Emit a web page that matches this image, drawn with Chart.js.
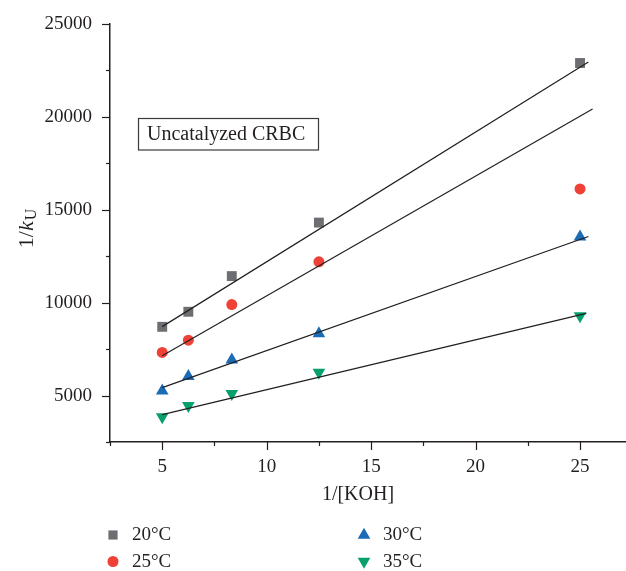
<!DOCTYPE html>
<html>
<head>
<meta charset="utf-8">
<script src="https://cdn.jsdelivr.net/npm/chart.js"></script>
<style>
  html, body { margin: 0; padding: 0; background: #fff; overflow: hidden; }
</style>
</head>
<body>
<canvas id="koh" width="626" height="571"></canvas>
<script>
// 1/[KOH] values and 1/kU
const invKOH = [5, 6.25, 8.33, 12.5, 25];
const temps = ['20°C', '25°C', '30°C', '35°C'];
const invK20 = [8700, 9510, 11430, 14310, 22900];
const invK25 = [7320, 7980, 9900, 12200, 16120];
const invK30 = [5260, 6030, 6920, 8340, 13540];
const invK35 = [3850, 4450, 5100, 6250, 9290];

// straight fit lines, two ends each
const fitX20 = [5, 25.4], fitY20 = [8710, 22960];
const fitX25 = [5, 25.6], fitY25 = [7140, 20430];
const fitX30 = [5, 25.4], fitY30 = [5430, 13560];
const fitX35 = [5, 25.3], fitY35 = [3975, 9420];

const xTicks = [2.5, 5, 7.5, 10, 12.5, 15, 17.5, 20, 22.5, 25];
const yTicks = [2500, 5000, 7500, 10000, 12500, 15000, 17500, 20000, 22500, 25000];

const serif = "'Liberation Serif', 'DejaVu Serif', serif";
const ink = '#231f20';
const colors = ['#6d6e71', '#ef4136', '#1b6bb5', '#07a06c'];
const styles = ['rect', 'circle', 'triangle', 'triangle'];
const rotations = [0, 0, 0, 180];
const radii = [7, 5.5, 7.3, 7.3];

const pts = (xs, ys) => xs.map((x, i) => ({ x: x, y: ys[i] }));

const markerSets = [invK20, invK25, invK30, invK35].map((ys, i) => ({
  label: temps[i],
  data: pts(invKOH, ys),
  pointStyle: styles[i],
  pointRotation: rotations[i],
  pointRadius: radii[i],
  backgroundColor: colors[i],
  pointBorderWidth: 0,
  showLine: false,
  order: 1
}));

const fitSets = [[fitX20, fitY20], [fitX25, fitY25], [fitX30, fitY30], [fitX35, fitY35]].map(f => ({
  data: pts(f[0], f[1]),
  showLine: true,
  borderColor: ink,
  borderWidth: 1.2,
  pointRadius: 0,
  order: 0
}));

function marker(ctx, style, rot, r, x, y, color) {
  ctx.fillStyle = color;
  if (Chart.helpers && Chart.helpers.drawPoint) {
    Chart.helpers.drawPoint(ctx, { pointStyle: style, rotation: rot, radius: r, borderWidth: 0 }, x, y);
  }
}

const decor = {
  id: 'decor',
  afterDraw(chart) {
    const ctx = chart.ctx;
    const { left, bottom } = chart.chartArea;
    const xs = chart.scales.x, ys = chart.scales.y;
    ctx.save();

    // tick marks, long on labelled values
    ctx.strokeStyle = ink;
    ctx.lineWidth = 1.2;
    ys.ticks.forEach(t => {
      const len = t.value % 5000 === 0 ? 8 : 4;
      const py = Math.round(ys.getPixelForValue(t.value)) + 0.5;
      ctx.beginPath(); ctx.moveTo(left - len, py); ctx.lineTo(left, py); ctx.stroke();
    });
    xs.ticks.forEach(t => {
      const len = t.value % 5 === 0 ? 8 : 4;
      const px = Math.round(xs.getPixelForValue(t.value)) + 0.5;
      ctx.beginPath(); ctx.moveTo(px, bottom); ctx.lineTo(px, bottom + len); ctx.stroke();
    });

    // axis titles
    ctx.fillStyle = ink;
    ctx.textBaseline = 'middle';
    ctx.textAlign = 'center';
    ctx.font = '20px ' + serif;
    ctx.fillText('1/[KOH]', 358, 495);

    ctx.save();
    ctx.translate(27, 229);
    ctx.rotate(-Math.PI / 2);
    ctx.textAlign = 'left';
    ctx.font = '22px ' + serif;
    const w1 = ctx.measureText('1/').width;
    ctx.font = 'italic 22px ' + serif;
    const w2 = ctx.measureText('k').width;
    ctx.font = '16px ' + serif;
    const w3 = ctx.measureText('U').width;
    let x0 = -(w1 + w2 + w3) / 2;
    ctx.font = '22px ' + serif;
    ctx.fillText('1/', x0, 0);
    ctx.font = 'italic 22px ' + serif;
    ctx.fillText('k', x0 + w1, 0);
    ctx.font = '16px ' + serif;
    ctx.fillText('U', x0 + w1 + w2 + 1, 5);
    ctx.restore();

    // label box
    ctx.strokeStyle = '#3a3a3a';
    ctx.lineWidth = 1.2;
    ctx.strokeRect(138.5, 118.5, 180, 31.5);
    ctx.textAlign = 'left';
    ctx.font = '20px ' + serif;
    ctx.fillText('Uncatalyzed CRBC', 147, 134.5);

    // legend, two columns
    const spots = [[113, 535], [113, 561.5], [364, 535], [364, 561.5]];
    chart.data.datasets.slice(0, 4).forEach((ds, i) => {
      const [mx, my] = spots[i];
      marker(ctx, styles[i], rotations[i], i === 0 ? 6.5 : radii[i], mx, my, colors[i]);
      ctx.fillStyle = ink;
      ctx.font = '19px ' + serif;
      ctx.fillText(ds.label, mx + 19, my + 0.5);
    });
    ctx.restore();
  }
};

new Chart(document.getElementById('koh'), {
  type: 'scatter',
  data: { datasets: markerSets.concat(fitSets) },
  options: {
    responsive: false,
    animation: false,
    events: [],
    layout: { autoPadding: false, padding: { top: 24, right: 0, bottom: 0, left: 0 } },
    plugins: { legend: { display: false }, tooltip: { enabled: false } },
    scales: {
      x: {
        type: 'linear',
        min: 2.5,
        max: 27.2,
        afterBuildTicks: s => { s.ticks = xTicks.map(v => ({ value: v })); },
        afterFit: s => { s.height = 129; },
        // invisible built-in ticks only hold the label gap; real ticks drawn by decor
        grid: { drawOnChartArea: false, drawTicks: true, tickLength: 14, tickColor: 'rgba(0,0,0,0)' },
        border: { color: ink, width: 1.5 },
        ticks: {
          autoSkip: false, maxRotation: 0, padding: 0, color: ink,
          font: { family: serif, size: 19 },
          callback: v => (v % 5 === 0 ? String(v) : '')
        }
      },
      y: {
        type: 'linear',
        min: 2500,
        max: 25000,
        afterBuildTicks: s => { s.ticks = yTicks.map(v => ({ value: v })); },
        afterFit: s => { s.width = 110; },
        grid: { drawOnChartArea: false, drawTicks: true, tickLength: 18, tickColor: 'rgba(0,0,0,0)' },
        border: { color: ink, width: 1.5 },
        ticks: {
          autoSkip: false, padding: 0, color: ink,
          font: { family: serif, size: 19 },
          callback: v => (v % 5000 === 0 ? String(v) : '')
        }
      }
    }
  },
  plugins: [decor]
});
</script>
</body>
</html>
